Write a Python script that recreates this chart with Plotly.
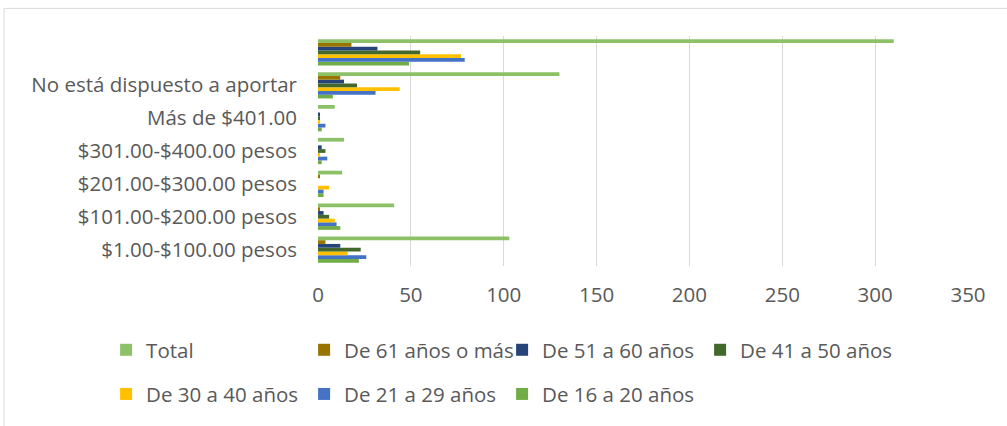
import plotly.graph_objects as go

# Contribution ranges (bottom to top on the chart); the top row is the overall total
categories = [
    "$1.00-$100.00 pesos",
    "$101.00-$200.00 pesos",
    "$201.00-$300.00 pesos",
    "$301.00-$400.00 pesos",
    "Más de $401.00",
    "No está dispuesto a aportar",
    "Total",
]
tick_labels = [
    "$1.00-$100.00 pesos",
    "$101.00-$200.00 pesos",
    "$201.00-$300.00 pesos",
    "$301.00-$400.00 pesos",
    "Más de $401.00",
    "No está dispuesto a aportar",
    "",
]

total = [103, 41, 13, 14, 9, 130, 310]
age_61_plus = [4, 1, 1, 0, 0, 12, 18]
age_51_60 = [12, 3, 0, 2, 1, 14, 32]
age_41_50 = [23, 6, 0, 4, 1, 21, 55]
age_30_40 = [16, 9, 6, 1, 1, 44, 77]
age_21_29 = [26, 10, 3, 5, 4, 31, 79]
age_16_20 = [22, 12, 3, 2, 2, 8, 49]

series = [
    ("De 16 a 20 años", age_16_20, "#70AD47", "legend2"),
    ("De 21 a 29 años", age_21_29, "#4472C4", "legend2"),
    ("De 30 a 40 años", age_30_40, "#FFC000", "legend2"),
    ("De 41 a 50 años", age_41_50, "#43682B", "legend"),
    ("De 51 a 60 años", age_51_60, "#264478", "legend"),
    ("De 61 años o más", age_61_plus, "#997300", "legend"),
    ("Total", total, "#8CC168", "legend"),
]

FONT = "Open Sans"
GREY = "#595959"
SIZE = 20.5

fig = go.Figure()
for name, vals, color, leg in series:
    fig.add_trace(go.Bar(
        y=categories, x=vals, name=name, orientation="h",
        marker=dict(color=color, line=dict(width=0)),
        legend=leg,
    ))

legend_common = dict(
    orientation="h", traceorder="reversed",
    font=dict(family=FONT, size=SIZE, color=GREY),
    entrywidth=153, entrywidthmode="pixels",
    xanchor="left", yanchor="middle",
    bgcolor="rgba(0,0,0,0)", itemwidth=30,
)

fig.update_layout(
    width=1007, height=426,
    margin=dict(l=318, r=39, t=36, b=157),
    paper_bgcolor="white", plot_bgcolor="white",
    barmode="group", bargap=0.2, bargroupgap=0,
    font=dict(family=FONT, color=GREY),
    xaxis=dict(
        range=[0, 350], dtick=50, tick0=0,
        showgrid=True, gridcolor="#D9D9D9", gridwidth=1,
        zeroline=False, showline=False,
        tickfont=dict(family=FONT, size=SIZE, color=GREY),
        ticks="", ticklabelstandoff=14,
    ),
    yaxis=dict(
        type="category", categoryorder="array", categoryarray=categories,
        tickvals=categories, ticktext=tick_labels,
        showgrid=False, zeroline=False, showline=False,
        tickfont=dict(family=FONT, size=SIZE, color=GREY),
        ticks="", ticklabelstandoff=20,
    ),
    legend=dict(x=-0.326, y=-0.365, **legend_common),
    legend2=dict(x=-0.326, y=-0.557, **legend_common),
    shapes=[dict(
        type="rect", xref="paper", yref="paper",
        x0=-0.483, x1=1.07, y0=-0.72, y1=1.12,
        line=dict(color="#D9D9D9", width=1), fillcolor="rgba(0,0,0,0)",
        layer="below",
    )],
)

fig.write_html("out.html")
